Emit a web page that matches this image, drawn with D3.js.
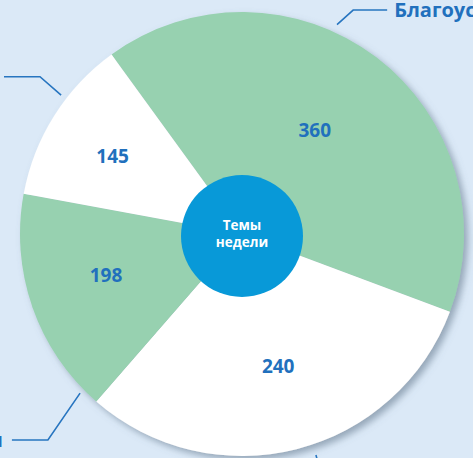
<!DOCTYPE html>
<html>
<head>
<meta charset="utf-8">
<script src="https://cdn.jsdelivr.net/npm/d3@7"></script>
<style>
  html, body { margin: 0; padding: 0; background: #dbe9f7; overflow: hidden; }
  svg { display: block; }
  .val { font-family: "Open Sans", sans-serif; font-weight: 700; font-size: 19px; fill: #2170bd; }
  .cat { font-family: "Open Sans", sans-serif; font-weight: 700; font-size: 20px; fill: #2170bd; }
  .hub { font-family: "Open Sans", sans-serif; font-weight: 700; font-size: 13.5px; fill: #fff; }
</style>
</head>
<body>
<div id="chart"></div>
<script>
var categories = ["Благоустройство", "Транспорт", "Дороги", "ЖКХ"];
var values = [360, 240, 198, 145];
// share of the circle each slice takes in the picture, percent
var shares = [40.7, 30.7, 16.5, 12.1];
var fills = ["#97d1b0", "#ffffff", "#97d1b0", "#ffffff"];
var hubLines = ["Темы", "недели"];

//////////////////////////////////////////////////////////////////////////////

var width = 473, height = 458;
var cx = 242, cy = 234, radius = 222, hubRadius = 61;
var deg = Math.PI / 180;

// label placement inside each slice: radius and angle shift from mid-angle
var labelLayout = [
  {r: 127, shift: -2.3},
  {r: 137, shift: -1.1},
  {r: 142, shift: 2.5},
  {r: 151, shift: -1.2}
];

// leader lines: rim angle and gap, elbow angle and radius, horizontal run
var leaders = [
  {angle: 24.4, gap: 8, elbowAngle: 26.4, elbow: 250, run: 34},
  {angle: 161.5, gap: 11, elbowAngle: 162, elbow: 275, run: 30},
  {angle: 225.5, gap: 5, elbowAngle: 223.3, elbow: 283, run: -36},
  {angle: 307.5, gap: 6, elbowAngle: 307.9, elbow: 256, run: -36}
];

var data = categories.map(function(c, i){
  return {cat: c, value: values[i], share: shares[i], fill: fills[i],
          leader: leaders[i], label: labelLayout[i]};
});

var svg = d3.select("#chart").append("svg")
    .attr("width", width)
    .attr("height", height);

svg.append("rect")
    .attr("width", width)
    .attr("height", height)
    .attr("fill", "#dbe9f7");

var defs = svg.append("defs");
var shadow = defs.append("filter")
    .attr("id", "shadow")
    .attr("x", "-10%").attr("y", "-10%")
    .attr("width", "130%").attr("height", "130%");
shadow.append("feDropShadow")
    .attr("dx", 4).attr("dy", 4)
    .attr("stdDeviation", 3.5)
    .attr("flood-color", "#5d6f86")
    .attr("flood-opacity", 0.55);

var pie = d3.pie()
    .sort(null)
    .value(function(d){ return d.share; })
    .startAngle(-36 * deg)
    .endAngle(324 * deg);

var arc = d3.arc().innerRadius(0).outerRadius(radius);

function polar(r, a) {
  return [r * Math.sin(a * deg), -r * Math.cos(a * deg)];
}

var g = svg.append("g").attr("transform", "translate(" + cx + "," + cy + ")");

var arcs = pie(data);

g.append("g")
    .attr("filter", "url(#shadow)")
  .selectAll("path")
    .data(arcs)
    .enter().append("path")
    .attr("d", arc)
    .attr("fill", function(d){ return d.data.fill; });

function labelPos(d) {
  var mid = (d.startAngle + d.endAngle) / 2 / deg + d.data.label.shift;
  return polar(d.data.label.r, mid);
}

g.selectAll("text.val")
    .data(arcs)
    .enter().append("text")
    .attr("class", "val")
    .attr("text-anchor", "middle")
    .attr("dy", "0.36em")
    .attr("x", function(d){ return labelPos(d)[0]; })
    .attr("y", function(d){ return labelPos(d)[1]; })
    .text(function(d){ return d.data.value; });

// leader lines and outside labels
var lead = g.selectAll("g.leader")
    .data(data)
    .enter().append("g")
    .attr("class", "leader");

lead.append("path")
    .attr("fill", "none")
    .attr("stroke", "#2775c0")
    .attr("stroke-width", 1.6)
    .attr("d", function(d){
      var L = d.leader;
      var p0 = polar(radius + L.gap, L.angle);
      var p1 = polar(L.elbow, L.elbowAngle);
      var p2 = [p1[0] + L.run, p1[1]];
      return d3.line()([p0, p1, p2]);
    });

lead.append("text")
    .attr("class", "cat")
    .attr("text-anchor", function(d){ return d.leader.run > 0 ? "start" : "end"; })
    .attr("x", function(d){
      var L = d.leader, p1 = polar(L.elbow, L.elbowAngle);
      return p1[0] + L.run + (L.run > 0 ? 7 : -9);
    })
    .attr("y", function(d){ return polar(d.leader.elbow, d.leader.elbowAngle)[1] + 7; })
    .text(function(d){ return d.cat; });

// hub
var hub = svg.append("g").attr("transform", "translate(" + cx + "," + (cy + 2) + ")");
hub.append("circle")
    .attr("r", hubRadius)
    .attr("fill", "#0899d8");
hub.selectAll("text")
    .data(hubLines)
    .enter().append("text")
    .attr("class", "hub")
    .attr("text-anchor", "middle")
    .attr("y", function(d, i){ return -6 + i * 17; })
    .text(function(d){ return d; });
</script>
</body>
</html>
